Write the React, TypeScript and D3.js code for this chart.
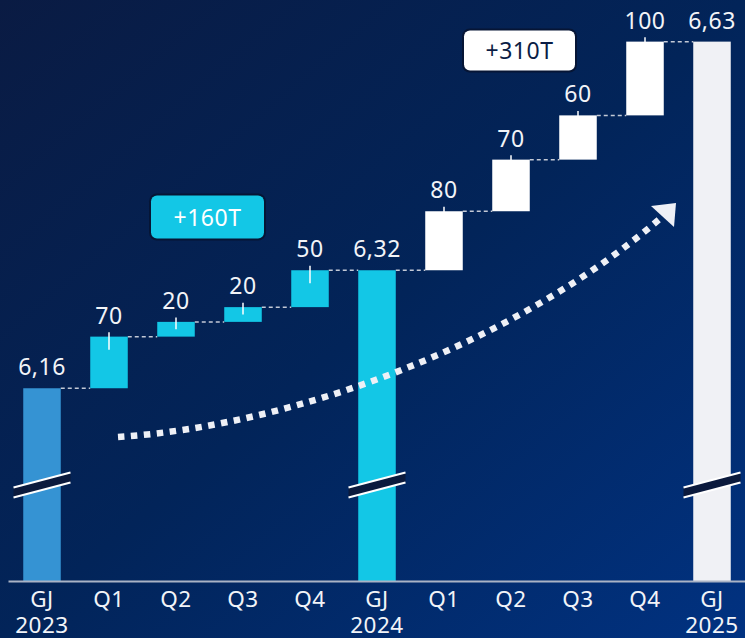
import React from 'react';
import * as d3 from 'd3';

// ---- data ----
const categoryIds = ['GJ2023', 'Q1_24', 'Q2_24', 'Q3_24', 'Q4_24', 'GJ2024', 'Q1_25', 'Q2_25', 'Q3_25', 'Q4_25', 'GJ2025'];
const axisLine1 = ['GJ', 'Q1', 'Q2', 'Q3', 'Q4', 'GJ', 'Q1', 'Q2', 'Q3', 'Q4', 'GJ'];
const axisLine2 = ['2023', '', '', '', '', '2024', '', '', '', '', '2025'];
const totalValues = [6.16, 6.32, 6.63];
const quarterSteps2024 = [70, 20, 20, 50]; // in T (0.001)
const quarterSteps2025 = [80, 70, 60, 100];
const valueLabels = ['6,16', '70', '20', '20', '50', '6,32', '80', '70', '60', '100', '6,63'];
const summaryLabels = ['+160T', '+310T'];

const W = 745;
const H = 638;
const FONT = "'Noto Sans', sans-serif";

type Bar = { id: string; y0: number; y1: number; kind: string; total: boolean; label: string };

function buildBars(): Bar[] {
  const bars: Bar[] = [];
  let idx = 0;
  const push = (y0: number, y1: number, kind: string, total: boolean) => {
    bars.push({ id: categoryIds[idx], y0, y1, kind, total, label: valueLabels[idx] });
    idx++;
  };
  push(null as any, totalValues[0], 'total1', true);
  let run = totalValues[0];
  quarterSteps2024.forEach((s) => {
    const n = run + s / 1000;
    push(run, n, 'step1', false);
    run = n;
  });
  push(null as any, totalValues[1], 'total2', true);
  run = totalValues[1];
  quarterSteps2025.forEach((s) => {
    const n = run + s / 1000;
    push(run, n, 'step2', false);
    run = n;
  });
  push(null as any, totalValues[2], 'total3', true);
  return bars;
}

const colors: Record<string, string> = {
  total1: '#3593d3',
  step1: '#13c7e6',
  total2: '#13c7e6',
  step2: '#ffffff',
  total3: '#f0f1f5',
};

export default function App() {
  const bars = buildBars();
  const x = d3.scaleBand<string>().domain(categoryIds).range([8.5, 745.5]).paddingInner(0.44).paddingOuter(0.22);
  const y = d3.scaleLinear().domain([5.9, 6.7]).range([580, -10]);
  const axisY = 581.5;
  const bw = x.bandwidth();
  const breakY = 485;

  const arrowPath = 'M118,437 C300,425 520,340 662,217';

  return (
    <svg width={W} height={H} style={{ position: 'absolute', left: 0, top: 0 }} fontFamily={FONT}>
      <defs>
        <linearGradient id="bg" x1="0" y1="0" x2="1" y2="1">
          <stop offset="0%" stopColor="#0a1b43" />
          <stop offset="50%" stopColor="#022459" />
          <stop offset="100%" stopColor="#013281" />
        </linearGradient>
      </defs>
      <rect x={0} y={0} width={W} height={H} fill="url(#bg)" />

      {/* connectors */}
      {bars.slice(0, -1).map((b, i) => {
        const nx = bars[i + 1];
        const x1 = (x(b.id) as number) + bw;
        const x2 = x(nx.id) as number;
        const yy = y(b.y1);
        return (
          <line key={'c' + i} x1={x1} x2={x2} y1={yy} y2={yy} stroke="#c3c9d6" strokeWidth={1.5} strokeDasharray="4 3" />
        );
      })}

      {/* bars */}
      {bars.map((b) => {
        const bx = x(b.id) as number;
        const top = y(b.y1);
        const bottom = b.total ? axisY : y(b.y0);
        return <rect key={b.id} x={bx} y={top} width={bw} height={bottom - top} fill={colors[b.kind]} />;
      })}

      {/* ticks on step bars */}
      {bars.filter((b) => !b.total).map((b) => {
        const cx = (x(b.id) as number) + bw / 2;
        const top = y(b.y1);
        const h = y(b.y0) - top;
        return <line key={'t' + b.id} x1={cx} x2={cx} y1={top - 4.5} y2={top + Math.min(13, h / 2)} stroke="#ffffff" strokeWidth={1.5} />;
      })}

      {/* break marks */}
      {bars.filter((b) => b.total).map((b) => {
        const cx = (x(b.id) as number) + bw / 2;
        const hw = 28.5;
        const dy = 7.5;
        const g = 5;
        const pts = [
          [cx - hw, breakY + dy - g],
          [cx + hw, breakY - dy - g],
          [cx + hw, breakY - dy + g],
          [cx - hw, breakY + dy + g],
        ];
        return (
          <g key={'b' + b.id}>
            <polygon points={pts.map((p) => p.join(',')).join(' ')} fill="#0b1a3d" />
            <line x1={pts[0][0]} y1={pts[0][1]} x2={pts[1][0]} y2={pts[1][1]} stroke="#ffffff" strokeWidth={2} />
            <line x1={pts[3][0]} y1={pts[3][1]} x2={pts[2][0]} y2={pts[2][1]} stroke="#ffffff" strokeWidth={2} />
          </g>
        );
      })}

      {/* value labels */}
      {bars.map((b) => {
        const cx = (x(b.id) as number) + bw / 2;
        return (
          <text key={'l' + b.id} x={cx} y={y(b.y1) - 13} textAnchor="middle" fill="#f2f4f8" fontSize={23} letterSpacing={0.5}>
            {b.label}
          </text>
        );
      })}

      {/* axis */}
      <line x1={8.5} x2={W} y1={axisY} y2={axisY} stroke="#aab3c5" strokeWidth={2} />
      {categoryIds.map((id, i) => {
        const cx = (x(id) as number) + bw / 2;
        return (
          <g key={'a' + id}>
            <text x={cx} y={607} textAnchor="middle" fill="#f2f4f8" fontSize={22.5} letterSpacing={0.5}>{axisLine1[i]}</text>
            {axisLine2[i] && (
              <text x={cx} y={633} textAnchor="middle" fill="#f2f4f8" fontSize={22.5} letterSpacing={0.5}>{axisLine2[i]}</text>
            )}
          </g>
        );
      })}

      {/* dotted growth arrow */}
      <path d={arrowPath} fill="none" stroke="#eef0f6" strokeWidth={6.5} strokeDasharray="6.5 6.5" />
      <polygon points="676,203 651,206 674,227" fill="#eef0f6" />

      {/* summary boxes */}
      <rect x={149} y={193.5} width={117} height={47} rx={8} fill="#061535" />
      <rect x={151} y={195.5} width={113} height={43} rx={6} fill="#13c7e6" />
      <text x={207.5} y={225.5} textAnchor="middle" fill="#ffffff" fontSize={23} letterSpacing={0.5}>{summaryLabels[0]}</text>

      <rect x={462} y={28.5} width={115} height={44} rx={8} fill="#061535" />
      <rect x={464} y={30.5} width={111} height={40} rx={6} fill="#ffffff" />
      <text x={519.5} y={58.5} textAnchor="middle" fill="#0b1d45" fontSize={23} letterSpacing={0.5}>{summaryLabels[1]}</text>
    </svg>
  );
}
